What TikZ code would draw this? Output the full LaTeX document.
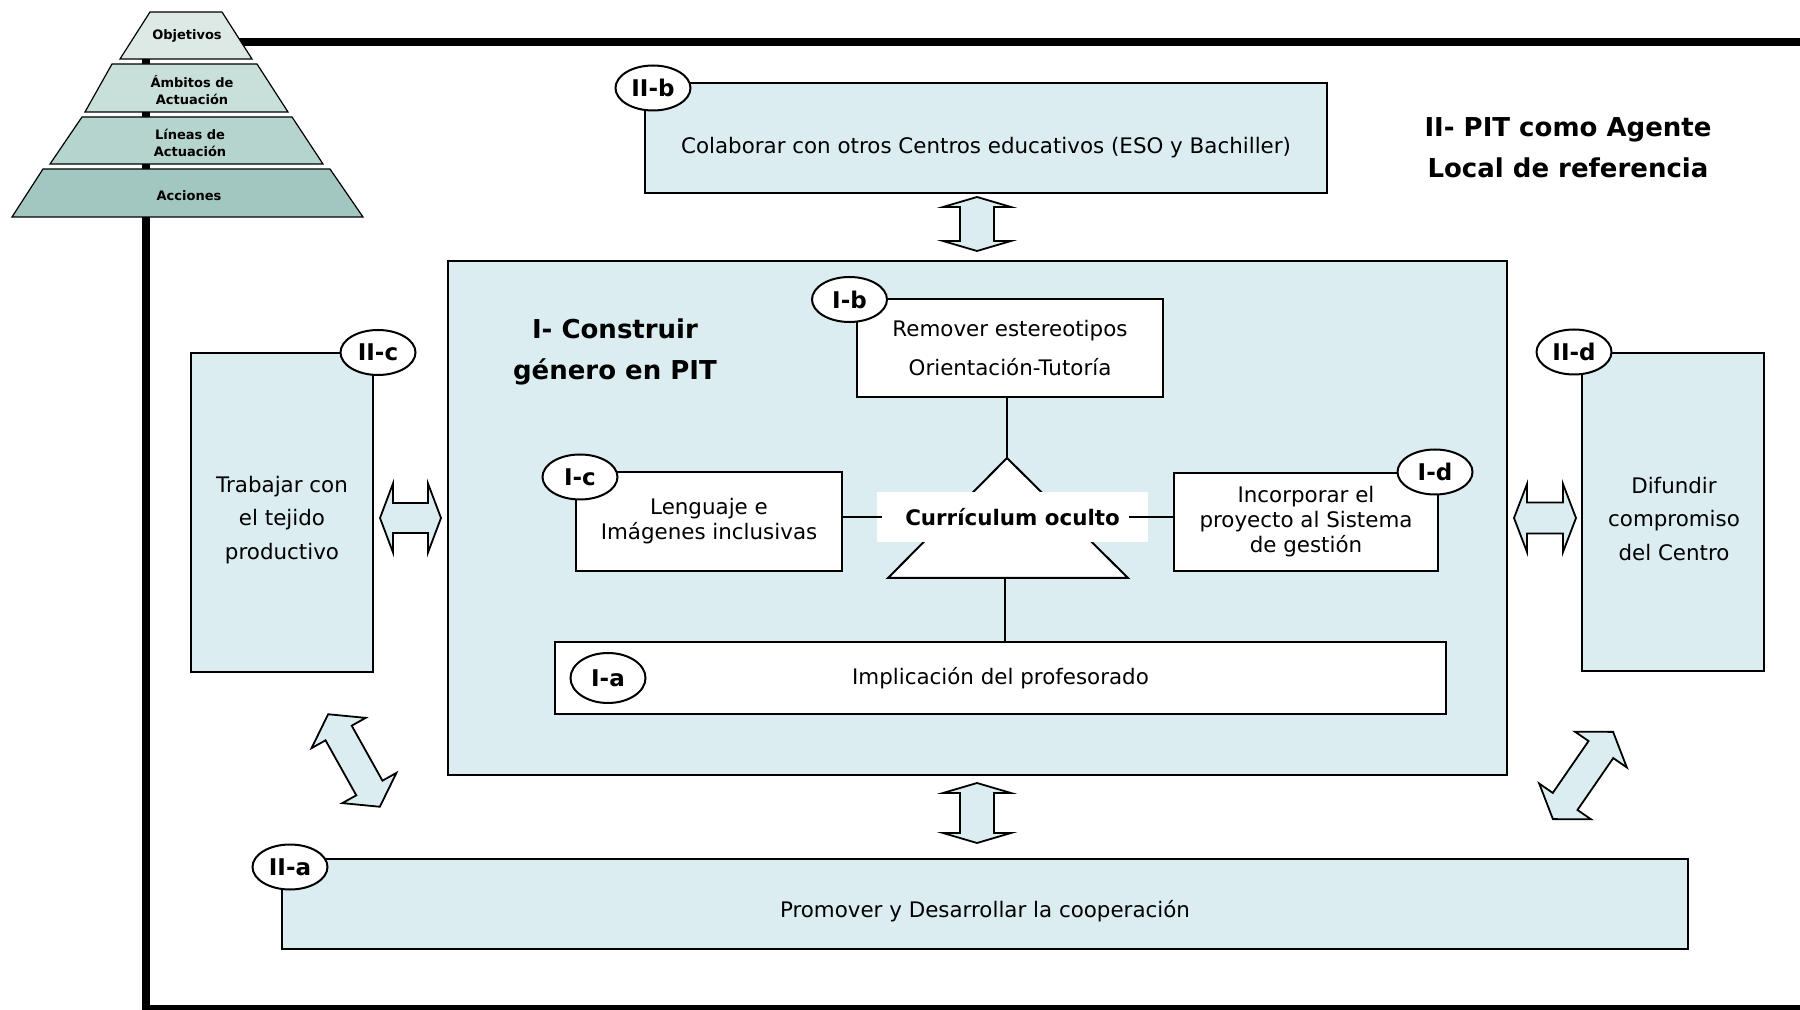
\documentclass[tikz,border=0pt]{standalone}
\usepackage{fontspec}
\setmainfont{DejaVu Sans}
\usetikzlibrary{shapes.geometric}
\definecolor{paleblue}{HTML}{DBEDF1}
\definecolor{lvlone}{HTML}{DCE9E5}
\definecolor{lvltwo}{HTML}{C9E0DA}
\definecolor{lvlthree}{HTML}{B5D4CD}
\definecolor{lvlfour}{HTML}{A2C6C0}
\tikzset{
  outerbox/.style={draw, line width=1pt, fill=paleblue, inner sep=0pt},
  innerbox/.style={draw, line width=1.1pt, fill=white, inner sep=0pt, align=center, font=\fontsize{10.7}{12.5}\selectfont},
  badge/.style={ellipse, draw, line width=1pt, fill=white, minimum width=37.5pt, minimum height=22.5pt, inner sep=0pt, font=\fontsize{11.5}{13}\selectfont\bfseries},
  boxtext/.style={align=center, font=\fontsize{10.7}{16.75}\selectfont},
  heading/.style={align=center, font=\fontsize{13}{20.5}\selectfont\bfseries},
  tier/.style={draw, line width=0.6pt},
  tiertext/.style={align=center, inner sep=0pt, font=\fontsize{6.5}{8.3}\selectfont\bfseries},
  blockarrow/.style={draw, line width=0.9pt, fill=paleblue, line join=miter},
  thickframe/.style={line width=3.8pt},
  link/.style={line width=1pt},
}
\newcommand{\biarrow}[7]{%
  \begin{scope}[shift={(#1,#2)}, rotate=#3]
    \draw[blockarrow] ({-#4/2},0) -- ({-#4/2+#5},{#6/2}) -- ({-#4/2+#5},{#7/2}) -- ({#4/2-#5},{#7/2}) -- ({#4/2-#5},{#6/2}) -- ({#4/2},0) -- ({#4/2-#5},{-#6/2}) -- ({#4/2-#5},{-#7/2}) -- ({-#4/2+#5},{-#7/2}) -- ({-#4/2+#5},{-#6/2}) -- cycle;
  \end{scope}}
\begin{document}
\begin{tikzpicture}[x=0.5pt, y=-0.5pt]
  \useasboundingbox (0,0) rectangle (1800,1010);
  \draw[thickframe] (1850,42) -- (146,42) -- (146,1009) -- (1850,1009);

  \draw[tier, fill=lvlone] (150,12) -- (222,12) -- (252,59) -- (120,59) -- cycle;
  \draw[tier, fill=lvltwo] (112,64) -- (257,64) -- (288,112) -- (85,112) -- cycle;
  \draw[tier, fill=lvlthree] (82,117) -- (292,117) -- (323,164) -- (50,164) -- cycle;
  \draw[tier, fill=lvlfour] (43,169) -- (330,169) -- (363,217) -- (12,217) -- cycle;
  \node[tiertext] (obj) at (187,36) {Objetivos};
  \node[tiertext] (amb) at (192,90) {Ámbitos de\\Actuación};
  \node[tiertext] (lin) at (190,143) {Líneas de\\Actuación};
  \node[tiertext] (acc) at (189,196) {Acciones};

  \node[outerbox, minimum width=341pt, minimum height=55pt] (IIb) at (986,138) {};
  \node[boxtext] (IIbtext) at (986,148) {Colaborar con otros Centros educativos (ESO y Bachiller)};
  \node[heading] (IItitle) at (1568,148) {II- PIT como Agente\\Local de referencia};

  \node[outerbox, minimum width=529.5pt, minimum height=257pt] (I) at (977.5,518) {};
  \node[heading] (Ititle) at (615,352) {I- Construir\\género en PIT};

  \node[outerbox, minimum width=90.75pt, minimum height=159.5pt] (IIc) at (282,512.5) {};
  \node[boxtext] (IIctext) at (282,520) {Trabajar con\\el tejido\\productivo};
  \node[outerbox, minimum width=91pt, minimum height=159pt] (IId) at (1673,512) {};
  \node[boxtext] (IIdtext) at (1674,519) {Difundir\\compromiso\\del Centro};
  \node[outerbox, minimum width=703pt, minimum height=45pt] (IIa) at (985,904) {};
  \node[boxtext] (IIatext) at (985,911) {Promover y Desarrollar la cooperación};

  \node[innerbox, minimum width=153pt, minimum height=49pt, font=\fontsize{10.7}{19.5}\selectfont] (Ib) at (1010,348) {Remover estereotipos\\Orientación-Tutoría};
  \node[innerbox, minimum width=133pt, minimum height=49.5pt] (Ic) at (709,521.5) {Lenguaje e\\Imágenes inclusivas};
  \node[innerbox, minimum width=132pt, minimum height=49pt] (Id) at (1306,522) {Incorporar el\\proyecto al Sistema\\de gestión};
  \node[innerbox, minimum width=445.5pt, minimum height=36pt] (Ia) at (1000.5,678) {Implicación del profesorado};

  \coordinate (apex) at (1007,458);
  \coordinate (baseL) at (888,578);
  \coordinate (baseR) at (1128,578);
  \coordinate (basemid) at (1005,578);
  \draw[link, fill=white] (apex) -- (baseR) -- (baseL) -- cycle;
  \node[fill=white, minimum width=135.5pt, minimum height=25pt, inner sep=0pt, font=\fontsize{10.7}{12}\selectfont\bfseries] (curr) at (1012.5,517) {Currículum oculto};
  \draw[link] (apex) -- (apex |- Ib.south);
  \draw[link] (basemid) -- (basemid |- Ia.north);
  \draw[link] (Ic.east |- curr.west) -- ([xshift=2.5pt]curr.west);
  \draw[link] ([xshift=-9.5pt]curr.east) -- (Id.west |- curr.east);

  \node[badge] (IIbtag) at (653,88) {II-b};
  \node[badge] (Ibtag) at (849.5,299.5) {I-b};
  \node[badge] (Ictag) at (580,477) {I-c};
  \node[badge] (Idtag) at (1435,472) {I-d};
  \node[badge, minimum height=25pt] (Iatag) at (608,678) {I-a};
  \node[badge] (IIctag) at (378,352.5) {II-c};
  \node[badge] (IIdtag) at (1574,352) {II-d};
  \node[badge] (IIatag) at (290,867) {II-a};

  \biarrow{977}{224}{90}{54}{10}{68}{34}
  \biarrow{977}{813}{90}{60}{10}{68}{34}
  \biarrow{410.5}{518}{0}{61}{13}{69}{30}
  \biarrow{1545}{518}{0}{62}{13}{68}{31}
  \biarrow{354}{760.5}{-60.8}{106}{21.5}{62}{30}
  \biarrow{1583}{775.5}{55.4}{106}{21.5}{63}{30}
\end{tikzpicture}
\end{document}
